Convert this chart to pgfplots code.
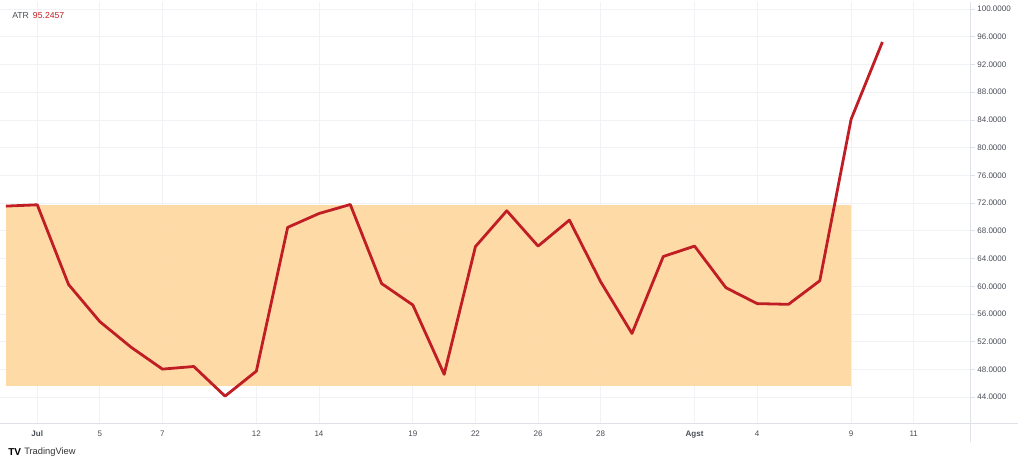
\documentclass[border=0pt]{standalone}
\usepackage{fontspec}
\setmainfont{Liberation Sans}
\usepackage{pgfplots}
\pgfplotsset{compat=1.18}

\definecolor{atrred}{RGB}{192,30,36}
\definecolor{band}{RGB}{254,215,160}
\definecolor{gridc}{RGB}{240,242,246}
\definecolor{axc}{RGB}{222,225,232}
\definecolor{txt}{RGB}{72,76,86}

\begin{document}
\begin{tikzpicture}[x=0.75pt,y=0.75pt]
% page frame, 1024 x 464 px
\useasboundingbox (0,0) rectangle (1024,464);

\begin{axis}[
    name=ax,
    at={(0,58)}, anchor=south west,
    scale only axis,
    width=728pt, height=316.5pt,
    xmin=-0.19, xmax=30.82,
    ymin=40.16, ymax=101.05,
    axis x line=bottom, axis y line=right,
    axis line style={draw=axc, line width=0.6pt, -},
    xtick={1,3,5,8,10,13,15,17,19,22,24,27,29},
    xticklabels={\textbf{Jul},5,7,12,14,19,22,26,28,\textbf{Agst},4,9,11},
    ytick={44,48,...,100},
    yticklabel={\pgfmathprintnumber[fixed,fixed zerofill,precision=4]{\tick}},
    /pgf/number format/assume math mode=true,
    xmajorgrids, ymajorgrids,
    grid style={draw=gridc, line width=0.6pt},
    x tick style={draw=none},
    y tick style={draw=axc, line width=0.6pt},
    tick align=outside,
    major tick length=3pt,
    tick label style={font=\fontsize{6}{7}\selectfont, text=txt},
    xticklabel style={yshift=1.5pt},
    yticklabel style={xshift=-1.5pt},
    clip=false,
]

% range band
\addplot[fill=band, draw=none, fill opacity=0.92]
    coordinates {(0,45.64) (27,45.64) (27,71.75) (0,71.75)} -- cycle;

% ATR line
\addplot[atrred, line width=2.1pt, line join=round] coordinates {
    (0,71.57) (1,71.76) (2,60.26) (3,54.9) (4,51.2) (5,48.05) (6,48.43)
    (7,44.15) (8,47.76) (9,68.5) (10,70.5) (11,71.8) (12,60.4) (13,57.3)
    (14,47.3) (15,65.74) (16,70.9) (17,65.8) (18,69.55) (19,60.65)
    (20,53.2) (21,64.3) (22,65.8) (23,59.8) (24,57.5) (25,57.4)
    (26,60.8) (27,84.1) (28,95.25)
};
\end{axis}

\draw[axc, line width=0.6pt] (ax.south east) -- ++(0,-18);
\draw[axc, line width=0.6pt] (ax.south east) -- ++(47,0);

\node[anchor=west, font=\fontsize{6.5}{7}\selectfont, text=txt, inner sep=0pt]
    at (12,448) {ATR\hspace{3pt}\textcolor{atrred}{95.2457}};

\node[anchor=west, inner sep=0pt, font=\fontsize{7.5}{8}\selectfont\bfseries]
    at (8,12) {TV};
\node[anchor=west, inner sep=0pt, font=\fontsize{7}{8}\selectfont, text=black!80]
    at (24,12) {TradingView};
\end{tikzpicture}
\end{document}
